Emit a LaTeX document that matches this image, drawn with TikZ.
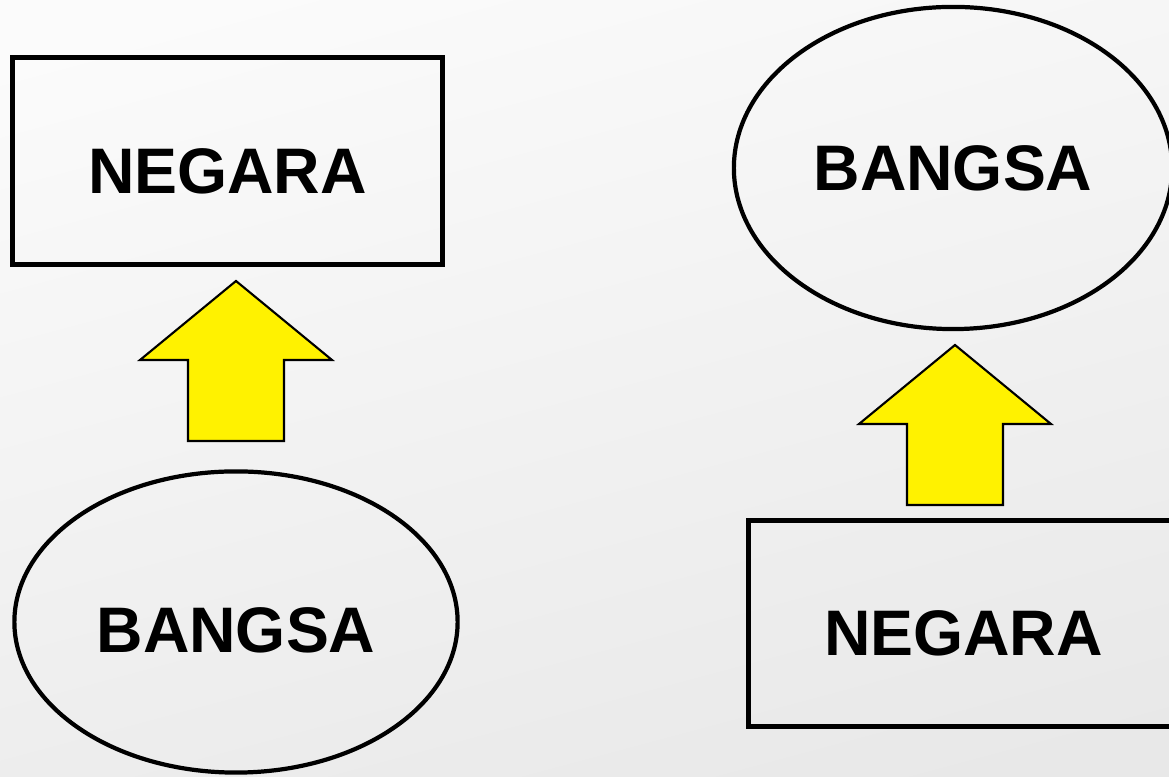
\documentclass[tikz,border=0pt]{standalone}
\usepackage{fontspec}
\setmainfont{Liberation Sans}
\usetikzlibrary{shapes.geometric}

\tikzset{
  lbl/.style={font=\bfseries\fontsize{18.3}{20}\selectfont, text=black},
  kotak/.style={lbl, draw, rectangle, line width=1.4pt, inner sep=0pt,
    minimum width=4.30cm, minimum height=2.06cm, text height=0.65cm},
  bulat/.style={lbl, draw, ellipse, line width=1.2pt, inner sep=0pt},
  panah/.pic={
    \draw[fill=yellow, line width=0.6pt, line join=miter]
      (-48,81) -- (-48,0) -- (-96,0) -- (0,-79) -- (96,0) -- (48,0) -- (48,81) -- cycle;
  }
}

\begin{document}
\begin{tikzpicture}[x=0.01cm, y=-0.01cm]

  \useasboundingbox (0,0) rectangle (1169,777);
  \clip (0,0) rectangle (1169,777);
  \shade[top color=gray!3, bottom color=gray!18, shading angle=15]
    (-50,-50) rectangle (1220,830);

  % kiri
  \node[kotak] (negara1) at (227.5,161) {NEGARA};
  \node[bulat, minimum width=4.43cm, minimum height=3.01cm, text height=0.61cm,
    xshift=0.03cm] (bangsa1) at (233,622) {BANGSA};
  \pic at (236,360) {panah};

  % kanan
  \node[bulat, minimum width=4.38cm, minimum height=3.22cm] (bangsa2) at (953,168) {BANGSA};
  \node[kotak] (negara2) at (963.5,623.5) {NEGARA};
  \pic at (955,424) {panah};

\end{tikzpicture}
\end{document}
